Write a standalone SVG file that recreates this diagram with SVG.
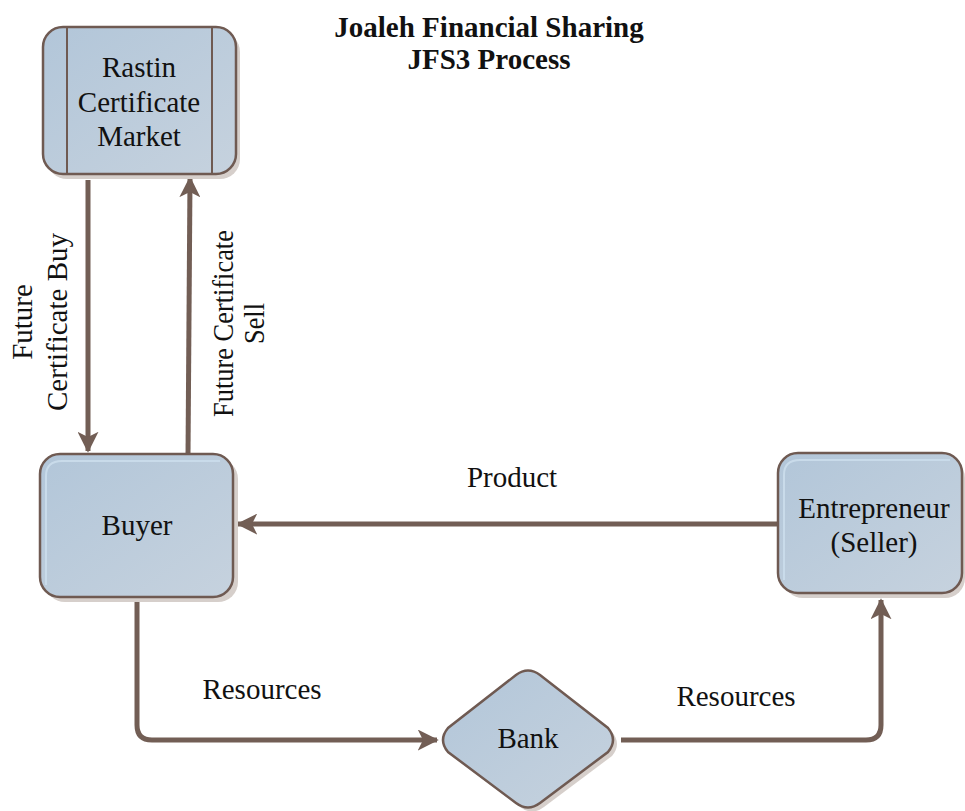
<svg xmlns="http://www.w3.org/2000/svg" width="965" height="811" viewBox="0 0 965 811">
<defs>
<linearGradient id="g" x1="0" y1="0" x2="1" y2="1">
<stop offset="0" stop-color="#b2c6d9"/>
<stop offset="1" stop-color="#c6d2de"/>
</linearGradient>
<marker id="ah" viewBox="0 0 12 12" refX="11" refY="6" markerWidth="4.2" markerHeight="4.2" orient="auto" markerUnits="strokeWidth">
<path d="M0,0 L12,6 L0,12 L3,6 Z" fill="#725e55"/>
</marker>
<style>
.node{fill:url(#g);stroke:#6f5a52;stroke-width:2.5}
.shadow{fill:#d6cfcb}
.t{font-family:"Liberation Serif","Times New Roman",serif;font-size:29px;fill:#111}
.title{font-family:"Liberation Serif","Times New Roman",serif;font-size:29px;font-weight:bold;fill:#111}
.c{fill:none;stroke:#725e55;stroke-width:5;marker-end:url(#ah)}
.hl{fill:none;stroke:#c9dbea;stroke-width:2}
</style>
</defs>
<rect width="965" height="811" fill="#fff"/>
<g id="title">
<text class="title" x="489" y="37" text-anchor="middle">Joaleh Financial Sharing</text>
<text class="title" x="489" y="69" text-anchor="middle">JFS3 Process</text>
</g>
<g id="connectors">
<line class="c" x1="88" y1="180" x2="88" y2="451"/>
<line class="c" x1="188" y1="456" x2="190" y2="178"/>
<line class="c" x1="778" y1="524" x2="238" y2="524"/>
<path class="c" d="M137,598 L137,725 Q137,740 152,740 L437,740"/>
<path class="c" d="M621,740 L866,740 Q881,740 881,725 L881,600"/>
<text class="t" x="512" y="487" text-anchor="middle">Product</text>
<text class="t" x="262" y="699" text-anchor="middle">Resources</text>
<text class="t" x="736" y="706" text-anchor="middle">Resources</text>
<text class="t" transform="translate(32,322) rotate(-90)" text-anchor="middle">Future</text>
<text class="t" transform="translate(67,322) rotate(-90)" text-anchor="middle">Certificate Buy</text>
<text class="t" transform="translate(233,323.5) rotate(-90) scale(0.91,1)" text-anchor="middle">Future Certificate</text>
<text class="t" transform="translate(264,323.5) rotate(-90) scale(0.91,1)" text-anchor="middle">Sell</text>
</g>
<g id="rastin">
<rect class="shadow" x="47" y="32" width="193" height="147" rx="20"/>
<rect class="node" x="43" y="27" width="193" height="147" rx="20"/>
<line x1="67" y1="28" x2="67" y2="173" stroke="#6f5a52" stroke-width="2"/>
<line x1="212" y1="28" x2="212" y2="173" stroke="#6f5a52" stroke-width="2"/>
<text class="t" x="139" y="77" text-anchor="middle">Rastin</text>
<text class="t" x="139" y="112" text-anchor="middle">Certificate</text>
<text class="t" x="139" y="146" text-anchor="middle">Market</text>
</g>
<g id="buyer">
<rect class="shadow" x="45" y="459" width="193" height="143" rx="20"/>
<rect class="node" x="40" y="454" width="193" height="143" rx="20"/>
<path class="hl" d="M46,585 L46,476 Q46,461 62,461 L220,461"/>
<text class="t" x="137" y="535" text-anchor="middle">Buyer</text>
</g>
<g id="entrepreneur">
<rect class="shadow" x="783" y="458" width="182" height="140" rx="20"/>
<rect class="node" x="778" y="453" width="184" height="140" rx="20"/>
<path class="hl" d="M784,580 L784,475 Q784,460 800,460 L950,460"/>
<text class="t" x="874" y="518" text-anchor="middle">Entrepreneur</text>
<text class="t" x="874" y="552" text-anchor="middle">(Seller)</text>
</g>
<g id="bank">
<path class="shadow" d="M520,679 Q532,670 544,679 L612,732 Q622,744 612,756 L544,807 Q532,816 520,807 L452,756 Q442,744 452,732 Z"/>
<path class="node" d="M516,675 Q528,666 540,675 L608,728 Q618,740 608,752 L540,803 Q528,812 516,803 L448,752 Q438,740 448,728 Z"/>
<text class="t" x="528" y="748" text-anchor="middle">Bank</text>
</g>
</svg>
